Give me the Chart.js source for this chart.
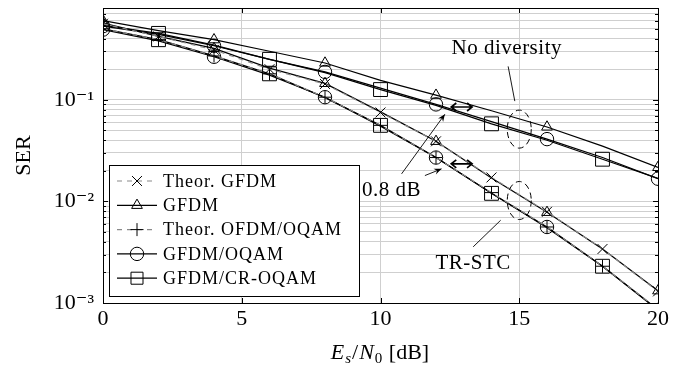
<!DOCTYPE html>
<html lang="en">
<head>
  <meta charset="UTF-8" />
  <script src="https://cdn.jsdelivr.net/npm/chart.js"></script>
  <title>SER vs Es/N0</title>
  <style>
    html, body { margin: 0; padding: 0; background: #fff; }
  </style>
</head>
<body>
  <canvas id="grafico" width="697" height="371"></canvas>
  <script>
    // Es/N0 [dB]
    const snr = [0, 2, 4, 6, 8, 10, 12, 14, 16, 18, 20];

    // No diversity
    const gfdmNd   = [0.60, 0.48, 0.39, 0.30, 0.23, 0.155, 0.111, 0.078, 0.054, 0.035, 0.0216];
    const oqamNd   = [0.53, 0.44, 0.34, 0.25, 0.188, 0.13, 0.090, 0.061, 0.041, 0.027, 0.0167];
    const crOqamNd = [0.54, 0.45, 0.345, 0.25, 0.185, 0.126, 0.088, 0.058, 0.040, 0.026, 0.0168];

    // TR-STC
    const theorGfdmTr = [0.56, 0.42, 0.31, 0.20, 0.143, 0.075, 0.039, 0.0172, 0.0079, 0.0034, 0.0013];
    const gfdmTr      = [0.57, 0.42, 0.32, 0.205, 0.145, 0.076, 0.039, 0.0170, 0.0078, 0.0034, 0.00132];
    const theorOqamTr = [0.50, 0.39, 0.27, 0.18, 0.106, 0.056, 0.027, 0.0122, 0.0056, 0.0023, 0.00087];
    const oqamTr      = [0.49, 0.38, 0.265, 0.175, 0.106, 0.055, 0.027, 0.0120, 0.0056, 0.0023, 0.00085];
    const crOqamTr    = [0.50, 0.39, 0.27, 0.18, 0.105, 0.056, 0.027, 0.0120, 0.0055, 0.0023, 0.00086];

    const legendLabels = ['Theor. GFDM', 'GFDM', 'Theor. OFDM/OQAM', 'GFDM/OQAM', 'GFDM/CR-OQAM'];
    const xTicks = [0, 5, 10, 15, 20];
    const yMin = 0.001, yMax = 0.8;

    const serif = '"Liberation Serif", "DejaVu Serif", serif';

    // estilos por serie (marcador)
    const estilos = {
      theorGfdm: { pointStyle: 'crossRot', radius: 7, dash: [5, 5], color: '#8a8a8a', cada: 'todos' },
      gfdm:      { pointStyle: 'triangle', radius: 6.2, dash: [], color: '#000', cada: 'par' },
      theorOqam: { pointStyle: 'cross', radius: 6.5, dash: [5, 5], color: '#8a8a8a', cada: 'todos' },
      oqam:      { pointStyle: 'circle', radius: 6.7, dash: [], color: '#000', cada: 'par' },
      crOqam:    { pointStyle: 'rect', radius: 9.8, dash: [], color: '#000', cada: 'impar' }
    };
    const ordenLeyenda = ['theorGfdm', 'gfdm', 'theorOqam', 'oqam', 'crOqam'];

    function serie(label, valores, key) {
      const e = estilos[key];
      return {
        label: label,
        data: snr.map((x, i) => ({ x: x, y: valores[i] })),
        borderColor: e.color,
        borderWidth: 1.2,
        borderDash: e.dash,
        pointStyle: e.pointStyle,
        pointRadius: snr.map((x, i) => {
          if (e.cada === 'todos') return e.radius;
          if (e.cada === 'par') return i % 2 === 0 ? e.radius : 0;
          return i % 2 === 1 ? e.radius : 0;
        }),
        pointBorderColor: '#000',
        pointBackgroundColor: 'rgba(0,0,0,0)',
        pointBorderWidth: 1,
        tension: 0,
        clip: 0
      };
    }

    const datasets = [
      serie('Theor. GFDM', theorGfdmTr, 'theorGfdm'),
      serie('GFDM', gfdmTr, 'gfdm'),
      serie('Theor. OFDM/OQAM', theorOqamTr, 'theorOqam'),
      serie('GFDM/OQAM', oqamTr, 'oqam'),
      serie('GFDM/CR-OQAM', crOqamTr, 'crOqam'),
      serie('GFDM (no diversity)', gfdmNd, 'gfdm'),
      serie('GFDM/OQAM (no diversity)', oqamNd, 'oqam'),
      serie('GFDM/CR-OQAM (no diversity)', crOqamNd, 'crOqam')
    ];

    // anotaciones en coordenadas de datos
    const notas = {
      noDiv: { texto: 'No diversity', x: 14.55, y: 0.32 },
      noDivLinea: [{ x: 14.6, y: 0.213 }, { x: 14.84, y: 0.097 }],
      elipses: [{ x: 15, y: 0.0514 }, { x: 15, y: 0.0102 }],
      trStc: { texto: 'TR-STC', x: 13.34, y: 0.00246 },
      trLinea: [{ x: 14.33, y: 0.00652 }, { x: 13.34, y: 0.00357 }],
      db: { texto: '0.8 dB', x: 10.4, y: 0.0128 },
      flechas: [
        [{ x: 10.76, y: 0.01866 }, { x: 12.32, y: 0.072 }],
        [{ x: 11.6, y: 0.01795 }, { x: 12.2, y: 0.0209 }]
      ],
      dobles: [{ x1: 12.55, x2: 13.3, y: 0.0849 }, { x1: 12.55, x2: 13.3, y: 0.0234 }]
    };

    function flecha(ctx, x1, y1, x2, y2, tam) {
      const a = Math.atan2(y2 - y1, x2 - x1);
      ctx.beginPath();
      ctx.moveTo(x1, y1);
      ctx.lineTo(x2, y2);
      ctx.stroke();
      ctx.beginPath();
      ctx.moveTo(x2, y2);
      ctx.lineTo(x2 - tam * Math.cos(a - 0.4), y2 - tam * Math.sin(a - 0.4));
      ctx.lineTo(x2 - tam * 0.6 * Math.cos(a), y2 - tam * 0.6 * Math.sin(a));
      ctx.lineTo(x2 - tam * Math.cos(a + 0.4), y2 - tam * Math.sin(a + 0.4));
      ctx.closePath();
      ctx.fill();
    }

    const extras = {
      id: 'extras',
      afterDraw(chart) {
        const ctx = chart.ctx;
        const area = chart.chartArea;
        const xs = chart.scales.x, ys = chart.scales.y;
        const px = v => xs.getPixelForValue(v);
        const py = v => ys.getPixelForValue(v);
        ctx.save();

        // marco
        ctx.strokeStyle = '#000';
        ctx.lineWidth = 1;
        ctx.strokeRect(Math.round(area.left) + 0.5, Math.round(area.top) + 0.5,
          Math.round(area.right - area.left), Math.round(area.bottom - area.top));

        // marcas interiores
        ctx.beginPath();
        xTicks.slice(1, -1).forEach(v => {
          const x = Math.round(px(v)) + 0.5;
          ctx.moveTo(x, area.bottom); ctx.lineTo(x, area.bottom - 5);
          ctx.moveTo(x, area.top); ctx.lineTo(x, area.top + 5);
        });
        ys.ticks.forEach(t => {
          if (t.value <= yMin || t.value >= yMax) return;
          const y = Math.round(py(t.value)) + 0.5;
          const len = t.label ? 5 : 3;
          ctx.moveTo(area.left, y); ctx.lineTo(area.left + len, y);
          ctx.moveTo(area.right, y); ctx.lineTo(area.right - len, y);
        });
        ctx.stroke();

        // anotaciones
        ctx.fillStyle = '#000';
        ctx.font = '21px ' + serif;
        ctx.letterSpacing = '0.5px';
        ctx.textAlign = 'center';
        ctx.textBaseline = 'middle';
        [notas.noDiv, notas.trStc, notas.db].forEach(n => ctx.fillText(n.texto, px(n.x), py(n.y)));
        ctx.letterSpacing = '0px';

        ctx.lineWidth = 0.9;
        [notas.noDivLinea, notas.trLinea].forEach(l => {
          ctx.beginPath();
          ctx.moveTo(px(l[0].x), py(l[0].y));
          ctx.lineTo(px(l[1].x), py(l[1].y));
          ctx.stroke();
        });

        ctx.lineWidth = 1;
        ctx.setLineDash([6, 4]);
        notas.elipses.forEach(e => {
          ctx.beginPath();
          ctx.ellipse(px(e.x), py(e.y), 12, 19, 0, 0, Math.PI * 2);
          ctx.stroke();
        });
        ctx.setLineDash([]);

        ctx.lineWidth = 0.9;
        notas.flechas.forEach(f => flecha(ctx, px(f[0].x), py(f[0].y), px(f[1].x), py(f[1].y), 8));

        ctx.lineWidth = 1.7;
        notas.dobles.forEach(d => {
          const y = py(d.y), x1 = px(d.x1), x2 = px(d.x2);
          ctx.beginPath();
          ctx.moveTo(x1, y); ctx.lineTo(x2, y);
          ctx.moveTo(x1 + 5, y - 4); ctx.lineTo(x1, y); ctx.lineTo(x1 + 5, y + 4);
          ctx.moveTo(x2 - 5, y - 4); ctx.lineTo(x2, y); ctx.lineTo(x2 - 5, y + 4);
          ctx.stroke();
        });

        // leyenda
        const lx = 109.5, ly = 165.5, lw = 250, lh = 131;
        ctx.lineWidth = 1;
        ctx.fillStyle = '#fff';
        ctx.fillRect(lx, ly, lw, lh);
        ctx.strokeRect(lx, ly, lw, lh);
        ctx.font = '18px ' + serif;
        ctx.letterSpacing = '1px';
        ctx.textAlign = 'left';
        ctx.textBaseline = 'middle';
        ordenLeyenda.forEach((k, i) => {
          const e = estilos[k];
          const y = 181 + i * 24.3;
          ctx.strokeStyle = e.color;
          ctx.lineWidth = 1.2;
          ctx.setLineDash(e.dash);
          ctx.beginPath();
          ctx.moveTo(117, y); ctx.lineTo(157, y);
          ctx.stroke();
          ctx.setLineDash([]);
          ctx.strokeStyle = '#000';
          ctx.lineWidth = 1;
          ctx.fillStyle = 'rgba(0,0,0,0)';
          const r = e.pointStyle === 'rect' ? 8.5 : e.radius;
          Chart.helpers.drawPoint(ctx, { pointStyle: e.pointStyle, radius: r, rotation: 0, borderWidth: 1 }, 137, y);
          ctx.fillStyle = '#000';
          ctx.fillText(legendLabels[i], 163, y + 1);
        });
        ctx.letterSpacing = '0px';

        // titulo eje x
        const partes = [
          { t: 'E', f: 'italic 22px ' + serif, dy: 0 },
          { t: 's', f: 'italic 15px ' + serif, dy: 4 },
          { t: '/', f: '22px ' + serif, dy: 0 },
          { t: 'N', f: 'italic 22px ' + serif, dy: 0 },
          { t: '0', f: '15px ' + serif, dy: 4 },
          { t: ' [dB]', f: '22px ' + serif, dy: 0 }
        ];
        let ancho = 0;
        partes.forEach(p => { ctx.font = p.f; p.w = ctx.measureText(p.t).width + 1; ancho += p.w; });
        let x0 = (area.left + area.right) / 2 - ancho / 2;
        ctx.textBaseline = 'alphabetic';
        partes.forEach(p => { ctx.font = p.f; ctx.fillText(p.t, x0, 359 + p.dy); x0 += p.w; });

        ctx.restore();
      }
    };

    const sup = { '-': '⁻', '1': '¹', '2': '²', '3': '³' };

    new Chart(document.getElementById('grafico').getContext('2d'), {
      type: 'line',
      data: { datasets: datasets },
      plugins: [extras],
      options: {
        responsive: false,
        animation: false,
        layout: { padding: { left: 0, right: 39, top: 6, bottom: 0 } },
        plugins: { legend: { display: false }, tooltip: { enabled: false } },
        scales: {
          x: {
            type: 'linear',
            min: 0, max: 20,
            afterBuildTicks: s => { s.ticks = xTicks.map(v => ({ value: v })); },
            afterFit: s => { s.height = 68; s.paddingLeft = 0; s.paddingRight = 0; },
            grid: { color: '#cfcfcf', drawTicks: false },
            border: { display: true, color: '#000' },
            ticks: { padding: 3, color: '#000', font: { family: serif, size: 22 } }
          },
          y: {
            type: 'logarithmic',
            min: yMin, max: yMax,
            afterBuildTicks: s => {
              const t = [];
              for (let e = -3; e <= -1; e++) {
                for (let m = 1; m <= 9; m++) {
                  const v = m * Math.pow(10, e);
                  if (v <= yMax + 1e-9) t.push({ value: v });
                }
              }
              s.ticks = t;
            },
            afterFit: s => { s.width = 103; s.paddingTop = 0; s.paddingBottom = 0; },
            grid: { color: '#cfcfcf', drawTicks: false },
            border: { display: true, color: '#000' },
            ticks: {
              padding: 9,
              color: '#000',
              font: { family: serif, size: 22 },
              autoSkip: false,
              callback: v => {
                const e = Math.log10(v);
                if (Math.abs(e - Math.round(e)) > 1e-6) return '';
                return '10' + String(Math.round(e)).split('').map(c => sup[c]).join('');
              }
            },
            title: { display: true, text: 'SER', color: '#000', font: { family: serif, size: 22 }, padding: { top: 11, bottom: 0 } }
          }
        }
      }
    });
  </script>
</body>
</html>
